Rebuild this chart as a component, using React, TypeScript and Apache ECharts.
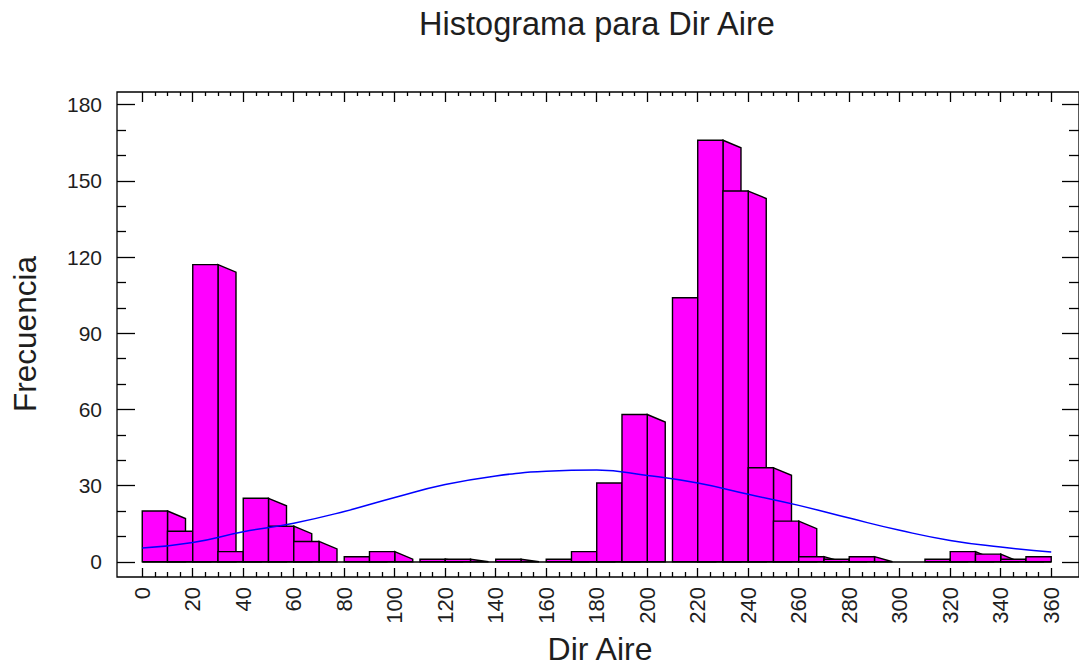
import { useEffect, useRef } from "react";
import * as echarts from "echarts";

// ---- data ----
const binStarts = [0, 10, 20, 30, 40, 50, 60, 70, 80, 90, 100, 110, 120, 130, 140, 150, 160, 170, 180, 190, 200, 210, 220, 230, 240, 250, 260, 270, 280, 290, 300, 310, 320, 330, 340, 350];
const binWidth = 10;
const counts = [20, 12, 117, 4, 25, 14, 8, 0, 2, 4, 0, 1, 1, 0, 1, 0, 1, 4, 31, 58, 0, 104, 166, 146, 37, 16, 2, 1, 2, 0, 0, 1, 4, 3, 1, 2];

const curveX = [0, 20, 40, 60, 80, 100, 120, 140, 160, 180, 200, 220, 240, 260, 280, 300, 320, 340, 360];
const curveY = [5.4, 7.6, 11.8, 15.2, 19.8, 25.3, 30.4, 33.8, 35.6, 36.1, 34.0, 31.0, 26.6, 22.2, 17.2, 12.4, 8.4, 5.8, 3.8];

const xMajorTicks = [0, 20, 40, 60, 80, 100, 120, 140, 160, 180, 200, 220, 240, 260, 280, 300, 320, 340, 360];
const xMinorTicks = [5, 10, 15, 25, 30, 35, 45, 50, 55, 65, 70, 75, 85, 90, 95, 105, 110, 115, 125, 130, 135, 145, 150, 155, 165, 170, 175, 185, 190, 195, 205, 210, 215, 225, 230, 235, 245, 250, 255, 265, 270, 275, 285, 290, 295, 305, 310, 315, 325, 330, 335, 345, 350, 355];
const yMajorTicks = [0, 30, 60, 90, 120, 150, 180];
const yMinorTicks = [10, 20, 40, 50, 70, 80, 100, 110, 130, 140, 160, 170];

const titleText = "Histograma para Dir Aire";
const xName = "Dir Aire";
const yName = "Frecuencia";

const FONT = "'Liberation Sans', Arial, sans-serif";
const TEXT = "#1e1e1e";

export default function App() {
  const ref = useRef<HTMLDivElement>(null);

  useEffect(() => {
    if (!ref.current) return;
    const chart = echarts.init(ref.current, null, { renderer: "svg" });

    const xBase = { type: "value", min: -10, max: 371, gridIndex: 0, splitLine: { show: false } };
    const yBase = { type: "value", min: -6, max: 185, gridIndex: 0, splitLine: { show: false } };
    const tickStyle = { color: "#000", width: 1.3 };

    const xAxes = [
      {
        ...xBase, position: "bottom",
        axisLine: { show: false, onZero: false },
        axisTick: { show: true, inside: true, length: 9, customValues: xMajorTicks, lineStyle: tickStyle },
        axisLabel: { show: true, customValues: xMajorTicks, rotate: 90, margin: 10, fontSize: 22, color: TEXT, fontFamily: FONT },
      },
      {
        ...xBase, position: "bottom",
        axisLine: { show: false, onZero: false },
        axisTick: { show: true, inside: true, length: 5, customValues: xMinorTicks, lineStyle: tickStyle },
        axisLabel: { show: false },
      },
      {
        ...xBase, position: "top",
        axisLine: { show: false, onZero: false },
        axisTick: { show: true, inside: true, length: 10, customValues: xMajorTicks, lineStyle: tickStyle },
        axisLabel: { show: false },
      },
      {
        ...xBase, position: "top",
        axisLine: { show: false, onZero: false },
        axisTick: { show: true, inside: true, length: 4, customValues: xMinorTicks, lineStyle: tickStyle },
        axisLabel: { show: false },
      },
    ];

    const yAxes = [
      {
        ...yBase, position: "left",
        axisLine: { show: false, onZero: false },
        axisTick: { show: true, inside: true, length: 18, customValues: yMajorTicks, lineStyle: tickStyle },
        axisLabel: { show: true, customValues: yMajorTicks, margin: 15, fontSize: 21, color: TEXT, fontFamily: FONT },
      },
      {
        ...yBase, position: "left",
        axisLine: { show: false, onZero: false },
        axisTick: { show: true, inside: true, length: 9, customValues: yMinorTicks, lineStyle: tickStyle },
        axisLabel: { show: false },
      },
      {
        ...yBase, position: "right",
        axisLine: { show: false, onZero: false },
        axisTick: { show: true, inside: true, length: 17, customValues: yMajorTicks, lineStyle: tickStyle },
        axisLabel: { show: false },
      },
      {
        ...yBase, position: "right",
        axisLine: { show: false, onZero: false },
        axisTick: { show: true, inside: true, length: 10, customValues: yMinorTicks, lineStyle: tickStyle },
        axisLabel: { show: false },
      },
    ];

    const barData = binStarts.map((s, i) => [s, s + binWidth, counts[i]]);
    const curveData = curveX.map((x, i) => [x, curveY[i]]);
    const dataEnd = binStarts[binStarts.length - 1] + binWidth;

    const SIDE_W = 18;
    const SIDE_DROP = 7.5;

    chart.setOption({
      animation: false,
      backgroundColor: "#ffffff",
      grid: {
        left: 117, right: 0, top: 92, bottom: 89,
        show: true, borderColor: "#000", borderWidth: 1.3, backgroundColor: "transparent",
      },
      xAxis: xAxes,
      yAxis: yAxes,
      graphic: [
        {
          type: "text", x: 597, y: 24,
          style: { text: titleText, font: `32.5px ${FONT}`, fill: TEXT, textAlign: "center", textVerticalAlign: "middle" },
        },
        {
          type: "text", x: 600, y: 649,
          style: { text: xName, font: `32px ${FONT}`, fill: TEXT, textAlign: "center", textVerticalAlign: "middle" },
        },
        {
          type: "text", x: 25, y: 334, rotation: Math.PI / 2,
          style: { text: yName, font: `31.5px ${FONT}`, fill: TEXT, textAlign: "center", textVerticalAlign: "middle" },
        },
      ],
      series: [
        {
          type: "custom",
          xAxisIndex: 0,
          yAxisIndex: 0,
          data: barData,
          encode: { x: [0, 1], y: 2 },
          renderItem: (params: any, api: any) => {
            const x0 = api.value(0);
            const x1 = api.value(1);
            const v = api.value(2);
            if (!(v > 0)) return null;
            const pTop = api.coord([x0, v]);
            const pBot = api.coord([x1, 0]);
            const xLimit = api.coord([dataEnd, 0])[0];
            const left = pTop[0];
            const right = pBot[0];
            const top = pTop[1];
            const base = pBot[1];
            const children: any[] = [];
            const sideRight = Math.min(right + SIDE_W, xLimit);
            if (sideRight > right + 0.5) {
              const frac = (sideRight - right) / SIDE_W;
              const sideTop = Math.min(top + SIDE_DROP * frac, base);
              children.push({
                type: "polygon",
                shape: { points: [[right, top], [sideRight, sideTop], [sideRight, base], [right, base]] },
                style: { fill: "#ff00ff", stroke: "#000", lineWidth: 1.4 },
              });
            }
            children.push({
              type: "rect",
              shape: { x: left, y: top, width: right - left, height: base - top },
              style: { fill: "#ff00ff", stroke: "#000", lineWidth: 1.4 },
            });
            return { type: "group", children };
          },
          z: 2,
        },
        {
          type: "line",
          xAxisIndex: 0,
          yAxisIndex: 0,
          data: curveData,
          smooth: true,
          showSymbol: false,
          symbol: "none",
          lineStyle: { color: "#0000ff", width: 1.5 },
          z: 3,
          markLine: {
            silent: true,
            symbol: "none",
            label: { show: false },
            lineStyle: { color: "#000", width: 1.6, type: "solid" },
            data: [[{ coord: [xMajorTicks[0], 0] }, { coord: [xMajorTicks[xMajorTicks.length - 1], 0] }]],
          },
        },
      ],
    });

    return () => chart.dispose();
  }, []);

  return (
    <div
      ref={ref}
      style={{ position: "absolute", left: 0, top: 0, width: 1079, height: 666, background: "#fff" }}
    />
  );
}
